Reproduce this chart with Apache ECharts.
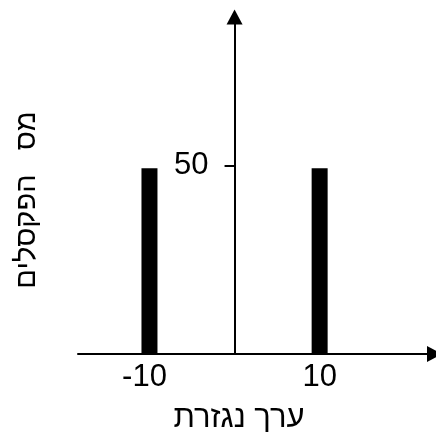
<!DOCTYPE html>
<html><head><meta charset="utf-8">
<script src="https://cdn.jsdelivr.net/npm/echarts@6/dist/echarts.min.js"></script>
<style>html,body{margin:0;padding:0;background:#fff}#c{width:436px;height:432px}</style>
</head><body><div id="c"></div>
<script>
const derivativeValues = [-10, 10];
const pixelCounts = [49.2, 49.2];
const xTickValues = [-10, 10];
const yTickValues = [50];
const xTitle = 'ערך נגזרת';
const yTitle = 'מס   הפקסלים';
const FONT = '"Liberation Sans", Arial, sans-serif';
const FS = 31;
const FS_YTITLE = 29;
const X_MIN = -18.4, X_MAX = 23.5;
const GRID_LEFT = 78, GRID_RIGHT = 1.5;
const chart = echarts.init(document.getElementById('c'), null, {renderer: 'canvas'});
const gridW = 436 - GRID_LEFT - GRID_RIGHT;
const zeroOffset = (0 - X_MIN) / (X_MAX - X_MIN) * gridW;
chart.setOption({
  animation: false,
  backgroundColor: '#fff',
  textStyle: {fontFamily: FONT},
  grid: {left: GRID_LEFT, right: GRID_RIGHT, top: 17, bottom: 78},
  xAxis: {
    type: 'value', min: X_MIN, max: X_MAX,
    splitLine: {show: false},
    axisLine: {show: true, onZero: true, lineStyle: {color: '#000', width: 2}, symbol: ['none', 'triangle'], symbolSize: [16, 15]},
    axisTick: {show: false},
    axisLabel: {
      customValues: xTickValues, color: '#000', fontSize: FS, margin: 8, fontFamily: FONT,
      formatter: v => v < 0 ? '{neg|' + v + '}' : String(v),
      rich: {neg: {fontSize: FS, fontFamily: FONT, color: '#000', padding: [0, 10, 0, 0]}}
    }
  },
  yAxis: {
    type: 'value', min: 0, max: 89.3,
    offset: -zeroOffset,
    splitLine: {show: false},
    axisLine: {show: true, onZero: false, lineStyle: {color: '#000', width: 2}, symbol: ['none', 'triangle'], symbolSize: [16, 15]},
    axisTick: {show: true, customValues: yTickValues, length: 10, lineStyle: {color: '#000', width: 2}},
    axisLabel: {customValues: yTickValues, color: '#000', fontSize: FS, margin: 26, fontFamily: FONT}
  },
  series: [{
    type: 'bar',
    data: derivativeValues.map((v, i) => [v, pixelCounts[i]]),
    barWidth: 16,
    itemStyle: {color: '#000'}
  }],
  graphic: [
    {type: 'text', x: 239, y: 418.5, style: {text: xTitle, font: FS + 'px ' + FONT, fill: '#000', align: 'center', verticalAlign: 'middle'}},
    {type: 'text', x: 26.5, y: 200, rotation: Math.PI / 2, style: {text: yTitle, font: FS_YTITLE + 'px ' + FONT, fill: '#000', align: 'center', verticalAlign: 'middle'}}
  ]
});
</script>
</body></html>
